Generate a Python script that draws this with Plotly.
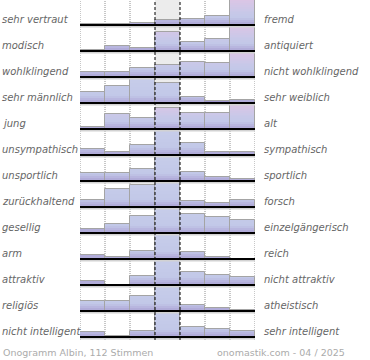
import plotly.graph_objects as go
import numpy as np

left_labels = ["sehr vertraut", "modisch", "wohlklingend", "sehr männlich", "jung",
               "unsympathisch", "unsportlich", "zurückhaltend", "gesellig", "arm",
               "attraktiv", "religiös", "nicht intelligent"]
right_labels = ["fremd", "antiquiert", "nicht wohlklingend", "sehr weiblich", "alt",
                "sympathisch", "sportlich", "forsch", "einzelgängerisch", "reich",
                "nicht attraktiv", "atheistisch", "sehr intelligent"]
scale_steps = [1, 2, 3, 4, 5, 6, 7]

# relative bar heights per row
row_values = [
    [0.8, 1.2, 2.5, 5.0, 6.5, 9.0, 25.0],
    [1.3, 4.7, 2.7, 19.5, 9.3, 12.5, 25.0],
    [5.0, 5.0, 9.3, 11.7, 14.7, 13.7, 25.0],
    [10.7, 17.3, 25.0, 20.0, 5.7, 1.7, 2.7],
    [2.3, 14.7, 11.0, 21.3, 16.0, 15.7, 25.0],
    [6.0, 3.3, 10.0, 25.0, 12.3, 2.7, 2.7],
    [7.7, 8.3, 11.7, 25.0, 8.7, 4.3, 2.3],
    [7.3, 17.7, 21.7, 25.0, 6.3, 4.3, 7.3],
    [3.7, 9.3, 17.3, 25.0, 18.7, 15.7, 12.7],
    [3.7, 2.3, 8.3, 25.0, 6.7, 2.3, 0.0],
    [3.7, 0.0, 8.7, 25.0, 12.7, 9.7, 8.3],
    [9.7, 9.7, 15.3, 25.0, 5.7, 3.3, 1.3],
    [4.7, 1.0, 5.7, 25.0, 10.3, 8.3, 6.3],
]
footer_left = "Onogramm Albin, 112 Stimmen"
footer_right = "onomastik.com - 04 / 2025"

n_rows = len(row_values)
xs = np.arange(len(scale_steps))
FILL = 0.96
N_BANDS = 14


def hex2rgb(h):
    h = h.lstrip('#')
    return np.array([int(h[i:i + 2], 16) for i in (0, 2, 4)], dtype=float)


def grad(stops, f):
    for (f0, c0), (f1, c1) in zip(stops[:-1], stops[1:]):
        if f0 <= f <= f1:
            t = (f - f0) / (f1 - f0) if f1 > f0 else 0
            c = hex2rgb(c0) * (1 - t) + hex2rgb(c1) * t
            return 'rgb(%d,%d,%d)' % tuple(np.round(c))
    c = hex2rgb(stops[-1][1])
    return 'rgb(%d,%d,%d)' % tuple(np.round(c))


blue_stops = [(0, '#948ac4'), (0.09, '#b0a9d8'), (0.3, '#c2c8e8'), (1.0, '#c7cdea')]
pink_stops = [(0, '#948ac4'), (0.09, '#b0a9d8'), (0.3, '#c2c8e8'), (0.55, '#c9c8e8'), (1.0, '#ddc5e5')]

fig = go.Figure()
shapes = []
annotations = []
label_font = dict(family='DejaVu Sans', size=10, color='#666666', style='italic')

for r, vals in enumerate(row_values):
    vals = np.array(vals, dtype=float)
    h = vals / vals.max() * FILL
    base = n_rows - 1 - r
    stops = pink_stops if int(np.argmax(vals)) > len(vals) // 2 else blue_stops
    for k in range(N_BANDS):
        f0 = k / N_BANDS
        seg = np.clip(h - f0, 0, 1.0 / N_BANDS)
        fig.add_trace(go.Bar(x=xs, y=seg, base=[base + f0] * len(xs), width=1.0,
                             marker=dict(color=grad(stops, f0 + 0.5 / N_BANDS), line=dict(width=0)),
                             showlegend=False, hoverinfo='skip'))
    fig.add_trace(go.Bar(x=xs, y=h, base=[base] * len(xs), width=1.0,
                         marker=dict(color='rgba(0,0,0,0)', line=dict(color='#a4a4a4', width=1)),
                         showlegend=False, hoverinfo='skip'))
    # baseline + shadow
    shapes.append(dict(type='line', xref='x', yref='y', x0=-0.5, x1=6.5, y0=base - 0.07, y1=base - 0.07,
                       line=dict(color='#d2d2d2', width=1.5), layer='above'))
    shapes.append(dict(type='line', xref='x', yref='y', x0=-0.5, x1=6.5, y0=base, y1=base,
                       line=dict(color='#000000', width=2), layer='above'))
    annotations.append(dict(text=left_labels[r], xref='paper', yref='y', x=-80 / 175, y=base + 0.2,
                            xanchor='left', yanchor='middle', showarrow=False, font=label_font))
    annotations.append(dict(text=right_labels[r], xref='paper', yref='y', x=(262 - 80) / 175, y=base + 0.2,
                            xanchor='left', yanchor='middle', showarrow=False, font=label_font))

mid = len(scale_steps) // 2
# centre column background
shapes.append(dict(type='rect', xref='x', yref='paper', x0=mid - 0.5, x1=mid + 0.5, y0=0, y1=1,
                   fillcolor='#ececec', line=dict(width=0), layer='below'))
for b in np.arange(len(scale_steps) + 1) - 0.5:
    if b in (mid - 0.5, mid + 0.5):
        shapes.append(dict(type='line', xref='x', yref='paper', x0=b, x1=b, y0=0, y1=1,
                           line=dict(color='#000000', width=1, dash='3px,2px'), layer='above'))
    else:
        shapes.append(dict(type='line', xref='x', yref='paper', x0=b, x1=b, y0=0, y1=1,
                           line=dict(color='#909090', width=1, dash='1px,1px'), layer='below'))

annotations.append(dict(text=footer_left, xref='paper', yref='paper', x=-79 / 175, y=-12 / 340,
                        xanchor='left', yanchor='middle', showarrow=False,
                        font=dict(family='DejaVu Sans', size=9.5, color='#ababab')))
annotations.append(dict(text=footer_right, xref='paper', yref='paper', x=(347 - 80) / 175, y=-12 / 340,
                        xanchor='right', yanchor='middle', showarrow=False,
                        font=dict(family='DejaVu Sans', size=9.5, color='#ababab')))

fig.update_layout(
    width=370, height=360,
    margin=dict(l=80, r=115, t=0, b=20),
    paper_bgcolor='white', plot_bgcolor='rgba(0,0,0,0)',
    barmode='overlay', bargap=0,
    xaxis=dict(range=[-0.5, 6.5], visible=False, fixedrange=True),
    yaxis=dict(range=[-3 / 26, 337 / 26], visible=False, fixedrange=True),
    shapes=shapes, annotations=annotations,
)

fig.write_html("out.html", config={'displayModeBar': False},
               post_script="document.body.style.margin='0';document.body.style.overflow='hidden';")
